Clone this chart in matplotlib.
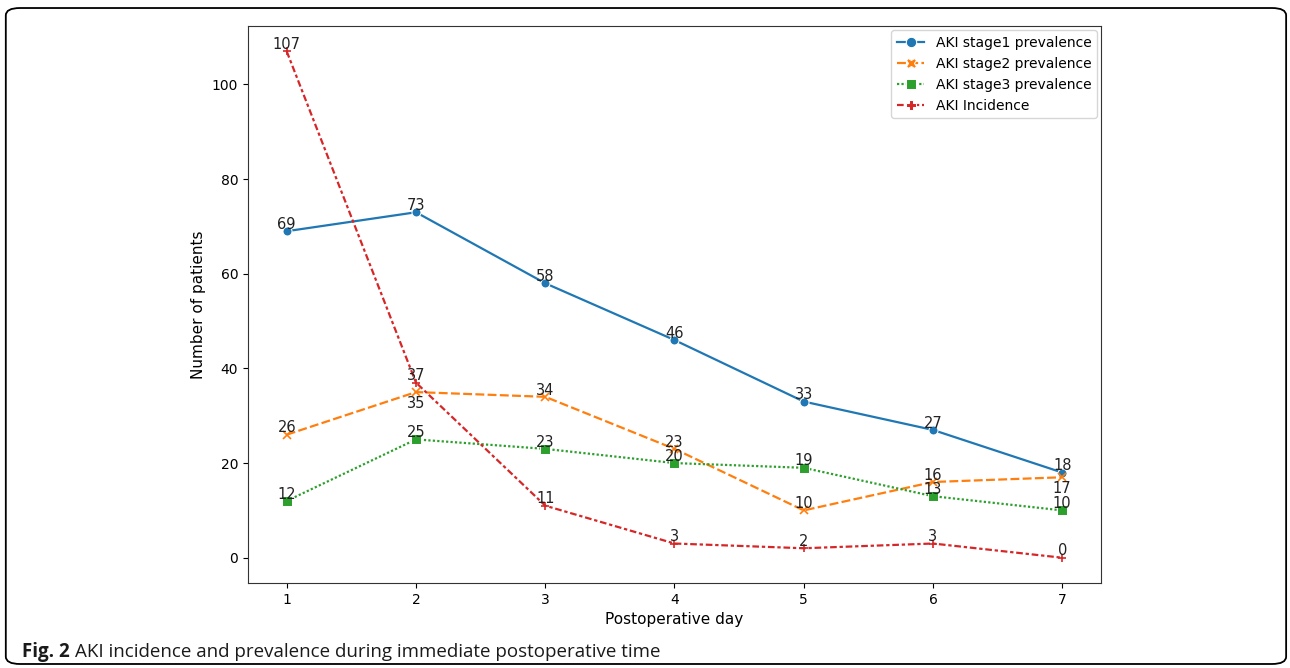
import matplotlib
matplotlib.use("Agg")
import matplotlib.pyplot as plt
from matplotlib.patches import FancyBboxPatch

days = [1, 2, 3, 4, 5, 6, 7]
stage1 = [69, 73, 58, 46, 33, 27, 18]
stage2 = [26, 35, 34, 23, 10, 16, 17]
stage3 = [12, 25, 23, 20, 19, 13, 10]
incidence = [107, 37, 11, 3, 2, 3, 0]
names = ["AKI stage1 prevalence", "AKI stage2 prevalence",
         "AKI stage3 prevalence", "AKI Incidence"]

series = [stage1, stage2, stage3, incidence]
colors = ["#1f77b4", "#ff7f0e", "#2ca02c", "#d62728"]
markers = ["o", "x", "s", "+"]
legend_markers = ["o", "X", "s", "P"]
dashes = [None, (4, 1.5), (1, 1), (3, 1.25, 1.5, 1.25)]

fig = plt.figure(figsize=(12.9, 6.68), dpi=100)
ax = fig.add_axes([0.1922, 0.1272, 0.6613, 0.8338])

for i in range(4):
    if markers[i] in ("x", "+"):
        ln, = ax.plot(days, series[i], color=colors[i], marker=markers[i],
                      markersize=6, markeredgewidth=1.2, linewidth=1.6, label=names[i])
    else:
        ln, = ax.plot(days, series[i], color=colors[i], marker=markers[i],
                      markersize=6.5, markeredgecolor="white", markeredgewidth=0.75,
                      linewidth=1.6, label=names[i])
    if dashes[i] is not None:
        ln.set_dashes(dashes[i])

# labels that sit below the point
below = {(1, 2), (1, 7)}
for i in range(4):
    for d, v in zip(days, series[i]):
        if (i, d) in below:
            ax.annotate(str(v), (d, v), xytext=(0, -3), textcoords="offset points",
                        ha="center", va="top", fontsize=10.5, color="#222222")
        else:
            ax.annotate(str(v), (d, v), xytext=(0, -0.5), textcoords="offset points",
                        ha="center", va="bottom", fontsize=10.5, color="#222222")

ax.set_xlabel("Postoperative day", fontsize=11)
ax.set_ylabel("Number of patients", fontsize=11)
ax.set_xticks(days)
ax.tick_params(labelsize=10)
for s in ax.spines.values():
    s.set_color("#333333")
leg = ax.legend(loc="upper right", fontsize=10, borderaxespad=0.3)
for h, m in zip(leg.legend_handles, legend_markers):
    h.set_marker(m)
    h.set_markersize(7.5)
    h.set_markeredgecolor("white")
    h.set_markeredgewidth(0.75)

box = FancyBboxPatch((0.0045, 0.006), 0.9925, 0.982, boxstyle="round,pad=0,rounding_size=0.011",
                     transform=fig.transFigure, facecolor="none", edgecolor="black",
                     linewidth=1.3, clip_on=False)
fig.patches.append(box)

t1 = fig.text(0.017, 0.017, "Fig. 2", fontsize=13.5, fontweight="bold",
              family="Open Sans", va="baseline", color="#1a1a1a")
fig.canvas.draw()
bb = t1.get_window_extent()
fig.text(bb.x1 / fig.bbox.width + 0.004, 0.017,
         "AKI incidence and prevalence during immediate postoperative time",
         fontsize=13.5, family="Open Sans", va="baseline", color="#1a1a1a")

fig.savefig("out.png", dpi=100)
